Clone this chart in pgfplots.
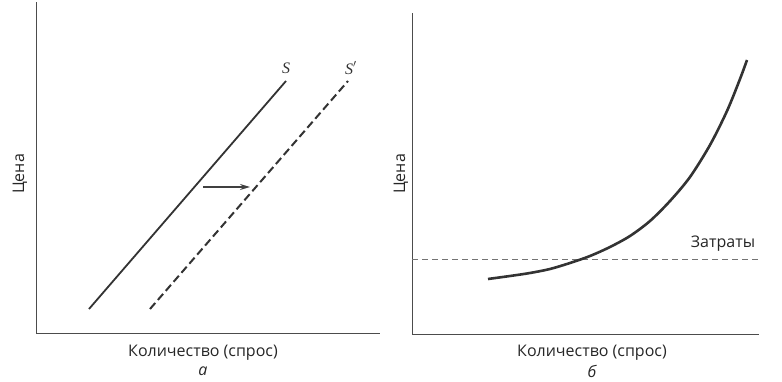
\documentclass[border=0pt]{standalone}
\usepackage{pgfplots}
\pgfplotsset{compat=1.18}
\usepackage{fontspec}
\setmainfont{Open Sans}
\newfontfamily\serifit{Liberation Serif}
\usetikzlibrary{arrows.meta}
\begin{document}
\begin{tikzpicture}[x=1pt,y=1pt]
\useasboundingbox (0,0) rectangle (782,382);
\pgfplotsset{panel/.style={scale only axis, axis lines=left,
  axis line style={-, draw=black!70, line width=1pt},
  xtick=\empty, ytick=\empty, clip=false, anchor=south west}}
\def\lab{\fontsize{16}{18}\selectfont}
% ---- panel a ----
\begin{axis}[panel, at={(36pt,48pt)}, width=344pt, height=332pt,
  xmin=36, xmax=380, ymin=48, ymax=380]
\addplot[black!80, line width=1.8pt] coordinates {(89,73) (286,301)};
\addplot[black!80, line width=2pt, dash pattern=on 8pt off 4pt] coordinates {(150,73) (348,301)};
\addplot[black!75, line width=1.3pt, -{Stealth[length=10pt,width=6pt]}] coordinates {(203,195) (250,195)};
\node[font=\serifit\itshape\fontsize{16}{16}\selectfont, text=black!80] at (axis cs:286,314) {S};
\node[font=\serifit\itshape\fontsize{16}{16}\selectfont, text=black!80] at (axis cs:351,314) {S$'$};
\node[font=\lab, text=black!85] at (axis cs:203,29) {Количество (спрос)};
\node[font=\lab\itshape, text=black!85] at (axis cs:203,11) {а};
\node[font=\lab, text=black!85, rotate=90] at (axis cs:20,208) {Цена};
\end{axis}
% ---- panel b ----
\begin{axis}[panel, at={(412pt,47pt)}, width=347pt, height=322pt,
  xmin=412, xmax=759, ymin=47, ymax=369]
\addplot[black!55, line width=0.9pt, dash pattern=on 6pt off 4pt] coordinates {(412,123) (759,123)};
\addplot[black!80, line width=2.6pt, smooth] coordinates {
  (488,103) (510,106) (530,109) (550,113) (570,119) (590,126) (610,135)
  (630,146) (650,161) (670,181) (690,205) (710,237) (727,271) (740,303) (747,322)};
\node[font=\lab, text=black!85] at (axis cs:723,138) {Затраты};
\node[font=\lab, text=black!85] at (axis cs:592,29) {Количество (спрос)};
\node[font=\lab\itshape, text=black!85] at (axis cs:592,11) {б};
\node[font=\lab, text=black!85, rotate=90] at (axis cs:401,208) {Цена};
\end{axis}
\end{tikzpicture}
\end{document}
